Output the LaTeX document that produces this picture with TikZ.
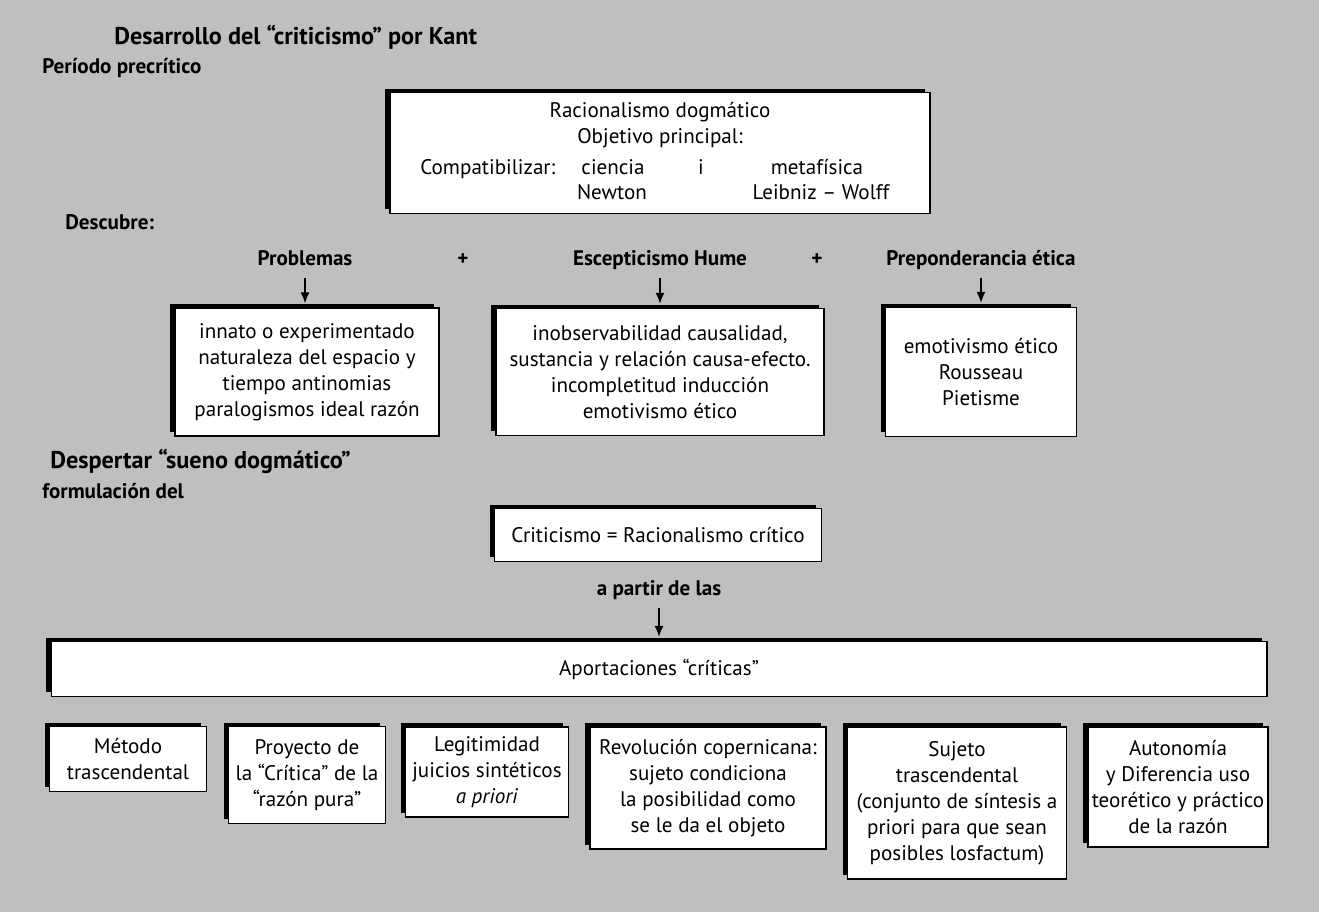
\documentclass[tikz,border=0pt]{standalone}
\usepackage{fontspec}
\setmainfont{PT Sans}
\usetikzlibrary{shadows,arrows.meta}
\begin{document}
\begin{tikzpicture}[x=0.02cm,y=-0.02cm]
\tikzstyle{every node}+=[font=\fontsize{12}{14.8}\selectfont]
\tikzstyle{box}=[draw=black, line width=0.7pt, fill=white, align=center, inner sep=2pt,
  drop shadow={shadow xshift=-0.1cm, shadow yshift=0.08cm, fill=black, opacity=1}]
\tikzstyle{lbl}=[inner sep=0pt, text height=8.5pt, text depth=2.5pt]
\tikzstyle{head}=[lbl, font=\fontsize{12}{14.8}\selectfont\bfseries]
\tikzstyle{bighead}=[lbl, font=\fontsize{13.8}{16}\selectfont\bfseries]
\tikzstyle{arr}=[-{Latex[length=2.2mm,width=1.8mm]}, line width=0.9pt]
\fill[black!25] (0,0) rectangle (1319,912);
\useasboundingbox (0,0) rectangle (1319,912);
% cabecera
\node[bighead, anchor=west] (titulo) at (114,39) {Desarrollo del “criticismo” por Kant};
\node[head, anchor=west] (periodo) at (42,68) {Período precrítico};
\node[box, minimum width=10.8cm, minimum height=2.42cm] (rac) at (660,153) {};
\node[lbl] (rac1) at (660,112) {Racionalismo dogmático};
\node[lbl] (rac2) at (660,138) {Objetivo principal:};
\node[lbl, anchor=west] (compat) at (420,169) {Compatibilizar:};
\node[lbl] (ciencia) at (613,169) {ciencia};
\node[lbl] (conj) at (701,169) {i};
\node[lbl] (meta) at (817,169) {metafísica};
\node[lbl] (newton) at (612,194) {Newton};
\node[lbl] (leibniz) at (821,194) {Leibniz – Wolff};
% descubre
\node[head, anchor=west] (descubre) at (65,224) {Descubre:};
\node[head] (lprob) at (305,260) {Problemas};
\node[head] (mas1) at (463,260) {+};
\node[head] (lesc) at (660,260) {Escepticismo Hume};
\node[head] (mas2) at (817,260) {+};
\node[head] (lpre) at (981,260) {Preponderancia ética};
\node[box, minimum width=5.28cm, minimum height=2.56cm] (prob) at (307,372)
  {innato o experimentado\\naturaleza del espacio y\\tiempo antinomias\\paralogismos ideal razón};
\node[box, minimum width=6.56cm, minimum height=2.54cm] (esc) at (660,372)
  {inobservabilidad causalidad,\\sustancia y relación causa-efecto.\\incompletitud inducción\\emotivismo ético};
\node[box, minimum width=3.82cm, minimum height=2.58cm] (pre) at (981,372)
  {emotivismo ético\\Rousseau\\Pietisme};
\draw[arr, shorten <=0.15cm, shorten >=0.08cm] (lprob) -- (lprob |- prob.north);
\draw[arr, shorten <=0.15cm, shorten >=0.08cm] (lesc) -- (lesc |- esc.north);
\draw[arr, shorten <=0.15cm, shorten >=0.08cm] (lpre) -- (lpre |- pre.north);
% despertar
\node[bighead, anchor=west] (despertar) at (50,463) {Despertar “sueno dogmático”};
\node[head, anchor=west] (formul) at (42,493) {formulación del};
\node[box, minimum width=6.54cm, minimum height=1.06cm] (crit) at (658,535) {Criticismo = Racionalismo crítico};
\node[head] (apartir) at (659,590) {a partir de las};
\node[box, minimum width=24.32cm, minimum height=1.1cm] (apo) at (659,669) {Aportaciones “críticas”};
\draw[arr, shorten <=0.15cm, shorten >=0.08cm] (apartir) -- (apartir |- apo.north);
% aportaciones
\node[box, minimum width=3.14cm, minimum height=1.3cm] (metodo) at (128,759) {Método\\trascendental};
\node[box, minimum width=3.14cm, minimum height=1.94cm] (proyecto) at (307,775)
  {Proyecto de\\la “Crítica” de la\\“razón pura”};
\node[box, minimum width=3.26cm, minimum height=1.8cm] (legit) at (487,772)
  {Legitimidad\\juicios sintéticos\\\textit{a priori}};
\node[box, minimum width=4.72cm, minimum height=2.44cm] (revol) at (708,788)
  {Revolución copernicana:\\sujeto condiciona\\la posibilidad como\\se le da el objeto};
\node[box, minimum width=4.38cm, minimum height=3.04cm] (sujeto) at (957,803)
  {Sujeto\\trascendental\\(conjunto de síntesis a\\priori para que sean\\posibles losfactum)};
\node[box, minimum width=3.6cm, minimum height=2.4cm] (auton) at (1178,787)
  {Autonomía\\y Diferencia uso\\teorético y práctico\\de la razón};
\end{tikzpicture}
\end{document}
